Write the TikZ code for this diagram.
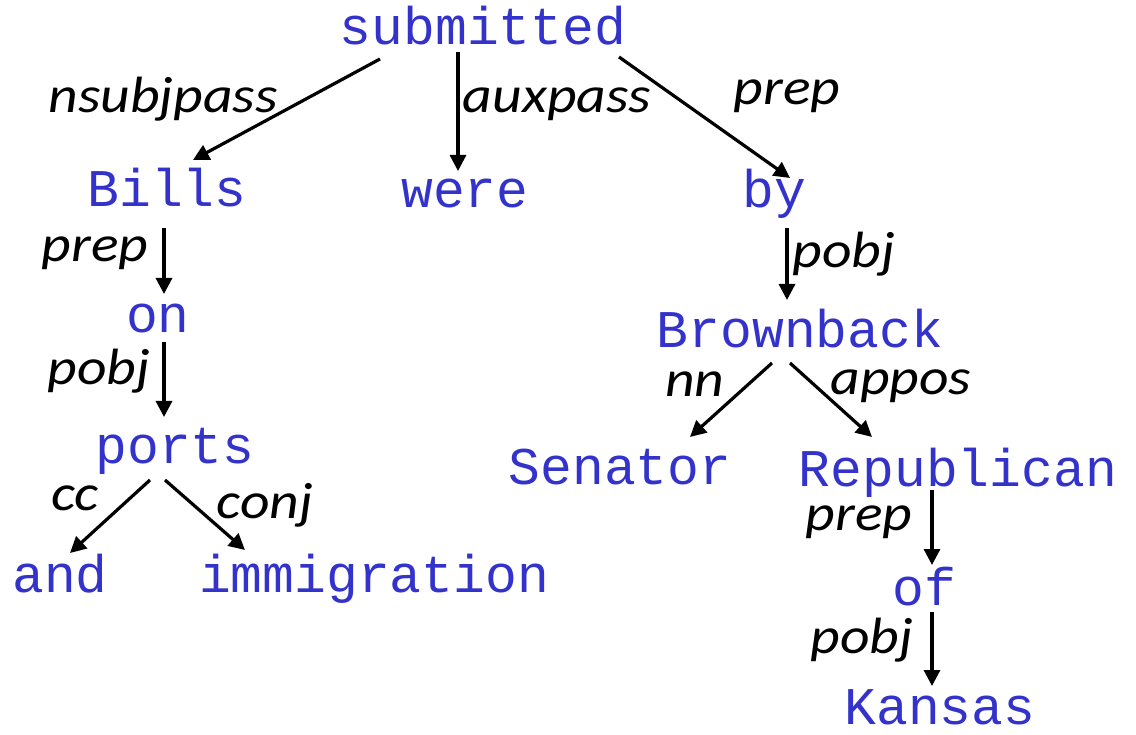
\documentclass[tikz,border=0pt]{standalone}
\usepackage{fontspec}
\newfontfamily\wordfont{Liberation Mono}
\newfontfamily\labfont[FakeStretch=1.13]{Carlito Italic}
\usetikzlibrary{arrows.meta,calc}
\definecolor{wordblue}{HTML}{3333CC}
\begin{document}
\begin{tikzpicture}[x=1pt,y=-1pt,
  word/.style={anchor=base,inner sep=0pt,text=wordblue,font=\wordfont\fontsize{53}{60}\selectfont},
  lab/.style={anchor=base,inner sep=0pt,font=\labfont\fontsize{51}{60}\selectfont},
  arr/.style={line width=3.2pt,-{Triangle[length=16pt,width=16pt]}}]
\useasboundingbox (0,0) rectangle (1136,735);
% words
\node[word] (sub) at (483,45) {submitted};
\node[word] (bills) at (167,207) {Bills};
\node[word] (were) at (465,208) {were};
\node[word] (by) at (774,208) {by};
\node[word] (on) at (158,333) {on};
\node[word] (ports) at (175,463) {ports};
\node[word] (and) at (60,592) {and};
\node[word] (imm) at (374,592) {immigration};
\node[word] (brown) at (800,348) {Brownback};
\node[word] (sen) at (620,484) {Senator};
\node[word] (rep) at (958,486) {Republican};
\node[word] (of) at (924,605) {of};
\node[word] (kan) at (940,724) {Kansas};
% labels
\node[lab] (l1) at (163,113) {nsubjpass};
\node[lab] (l2) at (557,113) {auxpass};
\node[lab] (l3) at (787,105) {prep};
\node[lab] (l4) at (95,262) {prep};
\node[lab] (l5) at (99,385) {pobj};
\node[lab] (l6) at (75,510) {cc};
\node[lab] (l7) at (265,518) {conj};
\node[lab] (l8) at (844,268) {pobj};
\node[lab] (l9) at (695,397) {nn};
\node[lab] (l10) at (901,395) {appos};
\node[lab] (l11) at (859,530) {prep};
\node[lab] (l12) at (862,653) {pobj};
% arrows
\draw[arr] ([shift={(-103,14)}]sub.base) -- ([shift={(26,-47)}]bills.base);
\draw[arr] ([shift={(-25,7)}]sub.base) -- ([shift={(-7,-37)}]were.base);
\draw[arr] ([shift={(136,12)}]sub.base) -- ([shift={(16,-30)}]by.base);
\draw[arr] ([shift={(-3,21)}]bills.base) -- ([shift={(6,-39)}]on.base);
\draw[arr] ([shift={(6,9)}]on.base) -- ([shift={(-11,-46)}]ports.base);
\draw[arr] ([shift={(-25,17)}]ports.base) -- ([shift={(10,-39)}]and.base);
\draw[arr] ([shift={(-10,17)}]ports.base) -- ([shift={(-129,-42)}]imm.base);
\draw[arr] ([shift={(13,20)}]by.base) -- ([shift={(-13,-48)}]brown.base);
\draw[arr] ([shift={(-28,15)}]brown.base) -- ([shift={(70,-47)}]sen.base);
\draw[arr] ([shift={(-10,15)}]brown.base) -- ([shift={(-86,-49)}]rep.base);
\draw[arr] ([shift={(-26,4)}]rep.base) -- ([shift={(8,-40)}]of.base);
\draw[arr] ([shift={(8,7)}]of.base) -- ([shift={(-8,-38)}]kan.base);
\end{tikzpicture}
\end{document}
